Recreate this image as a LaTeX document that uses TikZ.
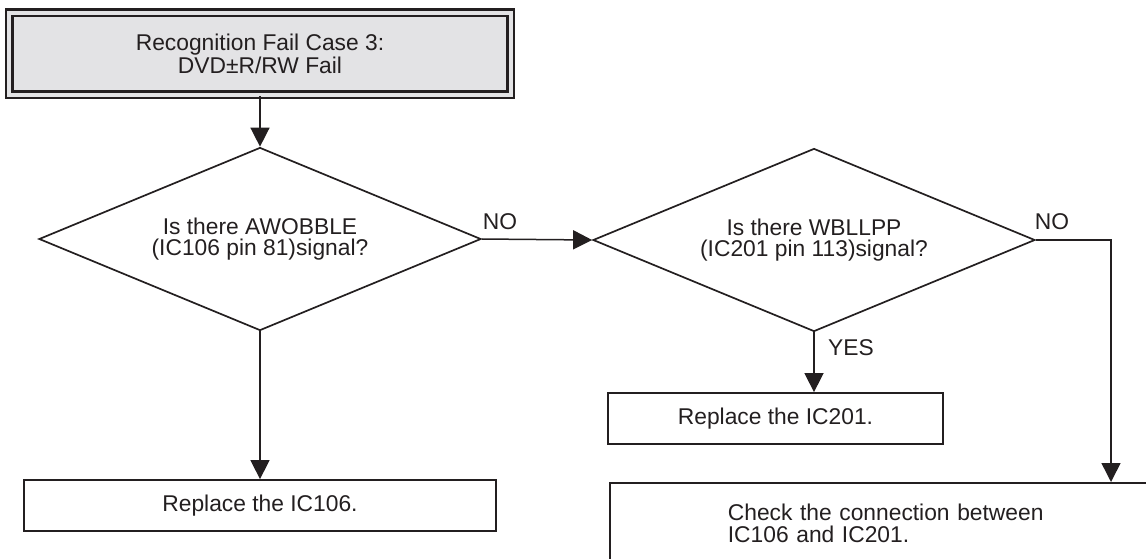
\documentclass[tikz,border=0pt]{standalone}
\usepackage{fontspec}
\setmainfont{Liberation Sans}
\usetikzlibrary{arrows.meta,shapes.geometric}
\definecolor{ink}{HTML}{231F20}
\definecolor{titlegray}{HTML}{E3E3E5}

\begin{document}
\begin{tikzpicture}[
  x=0.5pt, y=-0.5pt, font=\fontsize{11.4}{10.6}\selectfont, text=ink,
  flow/.style={draw=ink, line width=0.75pt, -{Triangle[length=9.5pt, width=9.5pt]}},
  titlebox/.style={draw=ink, double=titlegray, double distance=2pt, line width=1.35pt, fill=titlegray, align=center, minimum width=250.75pt, minimum height=41pt, inner sep=0pt},
  box/.style={draw=ink, line width=0.9pt, fill=white, align=center, inner sep=0pt},
  decision/.style={diamond, aspect=2.41, draw=ink, line width=0.85pt, align=center, inner sep=0pt, minimum width=221pt, minimum height=91.5pt},
  lbl/.style={text=ink, inner sep=0pt}
]
\useasboundingbox (0,0) rectangle (1146,558);
\clip (0,0) rectangle (1146,558);

\node[titlebox] (title) at (260,53.5) {Recognition Fail Case 3:\\DVD±R/RW Fail};
\node[decision] (d1) at (260,239) {Is there AWOBBLE\\(IC106 pin 81)signal?};
\node[decision] (d2) at (814,240) {Is there WBLLPP\\(IC201 pin 113)signal?};
\node[box, minimum width=167.5pt, minimum height=25.5pt] (r201) at (775.5,418.5) {Replace the IC201.};
\node[box, minimum width=236pt, minimum height=25.5pt] (r106) at (260,505.5) {Replace the IC106.};
\node[box, anchor=north west, align=left, text width=175pt, inner xsep=59pt, minimum height=40.5pt] (chk) at (609,482) {Check the connection between\\IC106 and IC201.};
\coordinate (turn) at (1111,0);

\draw[flow] (title.south) -- (d1.north);
\draw[flow] (d1.east) -- (d2.west);
\draw[flow] (d1.south) -- (r106.north);
\draw[flow] (d2.south) -- (d2.south |- r201.north);
\draw[flow] (d2.east) -| (turn |- chk.north);

\node[lbl] (no1) at (500,222) {NO};
\node[lbl] (no2) at (1052,222) {NO};
\node[lbl] (yes) at (851,348) {YES};
\end{tikzpicture}
\end{document}
